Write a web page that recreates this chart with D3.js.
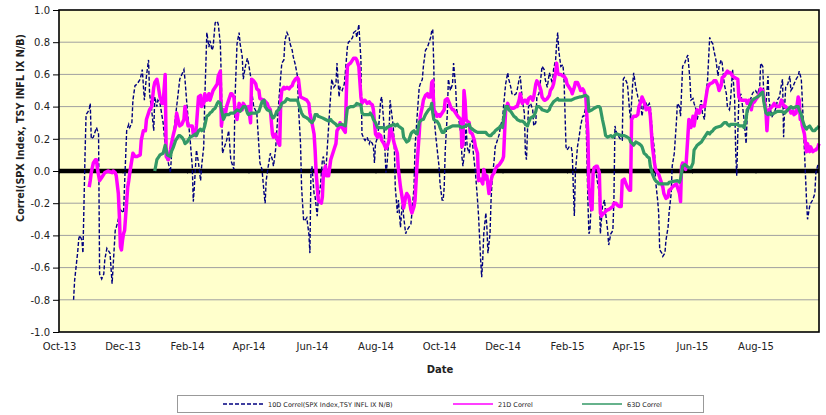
<!DOCTYPE html>
<html>
<head>
<meta charset="utf-8">
<script src="https://cdn.jsdelivr.net/npm/d3@7"></script>
<style>
  body { margin: 0; background: #fff; }
  svg { display: block; font-family: "DejaVu Sans", Verdana, sans-serif; }
</style>
</head>
<body>
<div id="chart"></div>
<script>
// dates are stored as day offsets from the first axis date
var startDate = new Date(2013, 9, 1),
    endDate = new Date(2015, 9, 1);

var yTicks = [-1.0, -0.8, -0.6, -0.4, -0.2, 0.0, 0.2, 0.4, 0.6, 0.8, 1.0];

var seriesNames = ["10D Correl(SPX Index,TSY INFL IX N/B)", "21D Correl", "63D Correl"];

// [day offset, correlation]
var corr10 = [
  [14,-0.80],[15,-0.68],[18,-0.50],[19,-0.42],[20,-0.40],[22,-0.43],[23,-0.51],[25,0.10],[26,0.35],[27,0.36],[29,0.38],[30,0.42],[31,0.20],[33,0.21],[36,0.27],[38,0.23],[39,-0.64],[41,-0.67],[43,-0.64],[44,-0.55],[46,-0.48],[49,-0.51],[51,-0.70],[52,-0.59],[54,-0.37],[55,-0.35],[57,-0.30],[59,-0.24],[62,-0.26],[63,-0.08],[65,0.25],[67,0.29],[68,0.27],[70,0.30],[71,0.44],[73,0.53],[75,0.54],[78,0.57],[80,0.63],[82,0.44],[84,0.59],[86,0.69],[87,0.48],[89,0.38],[91,0.25],[92,0.46],[94,0.40],[95,0.44],[97,0.42],[100,0.30],[103,0.09],[105,0.05],[107,-0.01],[108,0.09],[110,0.23],[113,0.40],[116,0.57],[120,0.63],[121,0.57],[123,0.40],[126,0.19],[128,0.03],[129,-0.19],[130,-0.10],[132,0.13],[134,0.05],[136,-0.06],[137,0.03],[139,0.15],[140,0.44],[142,0.86],[144,0.77],[145,0.81],[147,0.75],[148,0.77],[150,0.92],[152,0.93],[153,0.91],[155,0.79],[156,0.54],[157,0.11],[159,0.15],[161,0.19],[163,0.25],[165,0.07],[166,0.05],[168,0.01],[169,0.44],[171,0.79],
  [173,0.86],[174,0.79],[176,0.71],[177,0.57],[179,0.65],[181,0.70],[182,0.67],[184,0.59],[185,0.50],[187,0.40],[190,0.36],[193,0.05],[195,0.01],[197,-0.14],[198,-0.20],[199,-0.06],[201,0.03],[203,0.11],[205,0.07],[206,0.03],[208,0.13],[209,0.23],[211,0.42],[213,0.59],[214,0.67],[216,0.69],[217,0.81],[219,0.86],[221,0.83],[222,0.79],[224,0.75],[225,0.71],[227,0.66],[229,0.59],[230,0.40],[232,0.17],[233,-0.10],[235,-0.31],[237,-0.30],[238,-0.29],[240,-0.39],[241,-0.51],[242,-0.01],[243,0.03],[245,-0.14],[246,-0.16],[248,-0.28],[249,-0.18],[251,-0.10],[253,0.07],[254,0.09],[256,-0.03],[257,0.07],[259,0.28],[261,0.48],[262,0.57],[264,0.52],[266,0.54],[267,0.67],[269,0.46],[270,0.52],[272,0.50],[274,0.54],[275,0.61],[277,0.77],[278,0.80],[280,0.81],[282,0.83],[283,0.86],[285,0.87],[286,0.83],[288,0.91],[290,0.69],[291,0.23],[293,0.20],[294,0.19],[296,0.21],[298,0.17],[299,0.19],[301,0.17],[302,0.15],[303,0.05],[304,0.17],[306,0.21],[307,0.27],[309,0.44],[310,0.46],[312,0.30],[314,-0.01],[315,0.03],[317,0.23],[318,0.44],[321,0.28],[322,0.17],[323,-0.10],[325,-0.26],[326,-0.18],[328,-0.35],[330,-0.18],[331,-0.28],[333,-0.39],[334,-0.37],[336,-0.35],[338,-0.33],[339,-0.26],[341,-0.10],[342,0.15],[344,0.34],[346,0.52],[347,0.54],
  [349,0.57],[350,0.65],[352,0.75],[354,0.77],[355,0.79],[357,0.83],[358,0.87],[359,0.88],[360,0.65],[361,0.28],[362,0.21],[363,0.15],[365,0.03],[366,-0.08],[368,-0.18],[369,-0.18],[370,-0.10],[371,0.13],[373,0.36],[374,0.57],[376,0.50],[378,0.54],[379,0.67],[381,0.52],[382,0.38],[384,0.32],[386,0.23],[387,0.09],[388,0.03],[390,0.15],[391,0.30],[392,0.15],[394,0.11],[395,0.17],[397,0.19],[398,0.11],[400,-0.01],[402,-0.18],[403,-0.28],[405,-0.55],[406,-0.66],[407,-0.55],[408,-0.39],[410,-0.26],[411,-0.35],[412,-0.51],[414,-0.39],[415,-0.18],[416,-0.06],[418,0.07],[419,0.15],[421,0.19],[423,0.23],[424,0.28],[426,0.32],[427,0.40],[429,0.54],[431,0.61],[432,0.57],[434,0.52],[435,0.48],[437,0.47],[439,0.48],[440,0.50],[442,0.57],[443,0.59],[445,0.44],[447,0.36],[448,0.11],[449,0.07],[450,0.25],[451,0.40],[453,0.42],[455,0.38],[456,0.28],[458,0.30],[459,0.46],[461,0.48],[463,0.59],[464,0.65],[466,0.63],[467,0.57],[469,0.52],[471,0.61],[472,0.59],[474,0.54],[475,0.63],[477,0.69],[478,0.79],[479,0.86],[480,0.75],[482,0.65],[484,0.66],[485,0.59],[487,0.15],[488,0.13],[490,0.15],[492,0.15],[493,0.11],[494,-0.10],[495,-0.28],[496,-0.01],[498,0.15],[500,0.23],[501,0.28],[503,0.34],[504,0.34],[506,0.40],[508,-0.18],[509,-0.39],[510,-0.37],[511,-0.22],[512,-0.14],[514,0.03],[516,-0.01],[517,-0.06],[519,-0.14],[520,-0.39],[522,-0.22],[524,-0.18],[525,-0.26],[527,-0.37],[528,-0.46],[530,-0.39],
  [532,-0.37],[533,-0.18],[534,0.28],[535,0.25],[536,0.23],[538,0.21],[540,0.19],[541,0.19],[542,0.57],[543,0.58],[544,0.57],[546,0.54],[548,0.38],[549,0.32],[551,0.54],[552,0.61],[554,0.52],[556,0.46],[557,0.44],[559,0.40],[560,0.34],[562,0.44],[564,0.42],[565,0.40],[567,0.42],[568,0.40],[570,0.23],[572,0.13],[573,-0.06],[575,-0.18],[576,-0.26],[577,-0.49],[579,-0.51],[580,-0.53],[582,-0.51],[583,-0.43],[585,-0.35],[586,-0.26],[588,-0.14],[589,0.03],[591,0.11],[593,0.30],[594,0.42],[596,0.40],[597,0.34],[599,0.65],[601,0.67],[602,0.69],[604,0.72],[606,0.57],[607,0.44],[609,0.45],[610,0.42],[612,0.38],[613,0.32],[615,0.38],[617,0.44],[618,0.36],[620,0.32],[621,0.44],[623,0.57],[625,0.83],[626,0.81],[628,0.79],[629,0.75],[631,0.69],[633,0.59],[634,0.65],[636,0.69],[637,0.67],[639,0.54],[641,0.48],[642,0.40],[644,0.38],[645,0.44],[647,0.63],[649,0.44],[650,0.11],[651,-0.03],[652,0.23],[653,0.44],[655,0.48],[657,0.38],[658,0.32],[660,0.17],[661,0.34],[663,0.42],[665,0.46],[666,0.48],[668,0.50],[669,0.50],[671,0.48],[673,0.52],[674,0.67],[676,0.65],[677,0.46],[679,0.40],[681,0.59],[682,0.44],[684,0.36],[685,0.34],[687,0.36],[689,0.40],[690,0.44],[692,0.46],[694,0.54],[695,0.57],[696,0.21],[697,0.40],[698,0.52],[700,0.54],[702,0.59],[703,0.50],[705,0.52],[706,0.54],[708,0.57],[710,0.59],[711,0.62],[713,0.57],[714,0.44],[716,0.13],[718,-0.18],[719,-0.30],[720,-0.26],[721,-0.22],[722,-0.20],[724,-0.18],[726,-0.14],[727,-0.01],[729,0.04]
];

var corr21 = [
  [29,-0.10],[30,-0.06],[31,-0.01],[33,0.05],[35,0.07],[36,0.07],[37,0.01],[39,-0.06],[41,-0.04],[44,-0.01],[47,0.00],[51,-0.01],[52,0.00],[54,-0.01],[55,-0.03],[57,-0.14],[58,-0.28],[59,-0.47],[60,-0.49],[61,-0.43],[62,-0.39],[63,-0.37],[64,-0.28],[66,-0.10],[67,-0.06],[68,-0.01],[70,0.07],[71,0.11],[73,0.09],[75,0.09],[78,0.10],[79,0.19],[81,0.25],[83,0.25],[84,0.32],[86,0.36],[87,0.38],[89,0.40],[91,0.52],[92,0.55],[94,0.57],[95,0.54],[97,0.46],[99,0.42],[100,0.42],[102,0.60],[103,0.09],[105,0.07],[107,0.13],[108,0.17],[110,0.23],[112,0.28],[113,0.36],[115,0.30],[116,0.28],[118,0.29],[120,0.32],[121,0.40],[123,0.32],[124,0.28],[128,0.28],[129,0.23],[131,0.22],[132,0.28],[134,0.46],[136,0.47],[137,0.40],[139,0.42],[140,0.48],[142,0.44],[144,0.48],[145,0.44],[147,0.48],[148,0.50],[150,0.52],[152,0.54],[153,0.59],[155,0.62],[156,0.28],[158,0.38],[160,0.36],[161,0.40],[163,0.44],[165,0.48],[166,0.48],[168,0.46],[169,0.38],[171,0.32],
  [173,0.42],[174,0.40],[176,0.38],[177,0.42],[179,0.40],[181,0.38],[182,0.40],[184,0.30],[185,0.57],[187,0.56],[189,0.54],[190,0.51],[192,0.50],[193,0.45],[197,0.44],[200,0.42],[201,0.40],[203,0.38],[205,0.23],[206,0.21],[208,0.23],[209,0.21],[211,0.17],[212,0.16],[213,0.44],[214,0.50],[216,0.52],[217,0.51],[219,0.52],[221,0.51],[222,0.52],[224,0.53],[225,0.55],[227,0.57],[229,0.58],[230,0.57],[232,0.46],[235,0.45],[238,0.44],[240,0.42],[241,0.36],[243,0.30],[245,0.23],[246,0.13],[247,-0.01],[249,-0.18],[250,-0.19],[252,-0.20],[253,-0.16],[254,-0.01],[256,0.03],[257,-0.03],[259,-0.03],[261,0.07],[262,0.09],[264,0.13],[266,0.17],[267,0.25],[269,0.27],[270,0.30],[272,0.27],[274,0.25],[275,0.24],[276,0.48],[277,0.65],[278,0.66],[280,0.67],[282,0.69],[283,0.70],[285,0.70],[286,0.69],[288,0.65],[290,0.46],[291,0.42],[293,0.44],[294,0.44],[296,0.42],[298,0.43],[299,0.42],[301,0.41],[302,0.38],[304,0.23],[306,0.21],[307,0.23],[309,0.22],[310,0.19],[312,0.17],[314,0.14],[315,0.15],[317,0.19],[318,0.28],[320,0.23],[322,0.17],[323,0.15],[325,0.11],[326,0.01],[328,-0.10],[330,-0.18],[331,-0.23],[333,-0.16],[334,-0.14],[336,-0.16],[338,-0.24],[339,-0.26],[341,-0.22],[342,-0.18],[344,0.05],[346,0.23],[347,0.34],[349,0.40],[350,0.44],[352,0.47],[354,0.48],[355,0.46],[357,0.46],
  [358,0.55],[359,0.56],[360,0.38],[362,0.36],[363,0.34],[365,0.35],[366,0.34],[368,0.36],[370,0.38],[371,0.44],[373,0.45],[375,0.42],[376,0.40],[378,0.38],[379,0.38],[381,0.36],[383,0.34],[386,0.32],[387,0.15],[388,0.17],[389,0.50],[390,0.44],[391,0.32],[392,0.31],[394,0.30],[395,0.24],[397,0.23],[399,0.19],[400,0.15],[402,0.11],[403,-0.06],[405,-0.05],[407,-0.08],[408,0.01],[410,-0.05],[411,-0.03],[413,-0.14],[415,-0.06],[416,-0.03],[418,-0.01],[419,0.01],[421,0.03],[423,0.04],[424,0.05],[426,0.07],[427,0.09],[429,0.38],[431,0.42],[432,0.40],[434,0.39],[437,0.39],[439,0.40],[440,0.40],[442,0.44],[443,0.48],[445,0.42],[447,0.44],[448,0.44],[450,0.42],[451,0.45],[453,0.46],[455,0.44],[456,0.46],[458,0.54],[459,0.56],[461,0.54],[463,0.50],[464,0.46],[466,0.44],[467,0.44],[469,0.45],[471,0.47],[472,0.50],[474,0.52],[475,0.54],[477,0.61],[478,0.67],[479,0.61],[480,0.60],[482,0.60],[484,0.59],[485,0.59],[487,0.57],[488,0.54],[490,0.52],[492,0.50],[493,0.48],[495,0.52],[496,0.55],[498,0.55],[500,0.52],[501,0.50],[503,0.51],[504,0.50],[506,0.46],[508,0.23],[509,-0.10],[511,-0.22],[512,-0.24],[513,-0.01],[514,0.02],[516,0.03],[517,0.03],[519,-0.01],[520,-0.26],[521,-0.28],[522,-0.27],[524,-0.26],[525,-0.25],[527,-0.24],[528,-0.24],[530,-0.23],[532,-0.22],[533,-0.20],[535,-0.20],[536,-0.21],[538,-0.22],[540,-0.22],
  [541,-0.06],[543,-0.05],[544,-0.07],[546,-0.10],[548,-0.12],[549,-0.12],[550,0.32],[551,0.33],[552,0.34],[554,0.34],[556,0.35],[557,0.40],[559,0.43],[560,0.46],[562,0.43],[564,0.38],[565,0.39],[567,0.39],[568,0.34],[570,0.15],[572,0.05],[573,0.01],[575,-0.01],[576,-0.02],[578,-0.06],[580,-0.10],[581,-0.14],[583,-0.17],[585,-0.16],[586,-0.12],[588,-0.11],[589,-0.10],[591,-0.09],[593,-0.08],[594,-0.10],[596,-0.14],[597,-0.19],[598,0.03],[599,0.05],[601,0.03],[602,0.01],[604,0.21],[605,0.32],[606,0.30],[607,0.27],[609,0.34],[610,0.28],[612,0.36],[613,0.38],[615,0.36],[617,0.40],[620,0.40],[621,0.44],[623,0.52],[625,0.54],[628,0.55],[629,0.56],[631,0.56],[633,0.53],[634,0.50],[636,0.53],[637,0.58],[639,0.59],[641,0.61],[642,0.62],[644,0.61],[645,0.61],[647,0.59],[649,0.58],[652,0.57],[653,0.46],[655,0.44],[658,0.44],[660,0.44],[661,0.42],[663,0.44],[665,0.38],[666,0.42],[668,0.43],[669,0.44],[671,0.46],[673,0.48],[674,0.51],[676,0.50],[677,0.46],[679,0.38],[680,0.25],[681,0.36],[682,0.38],[685,0.40],[687,0.42],[689,0.40],[692,0.40],[694,0.44],[695,0.42],[697,0.40],[698,0.40],[700,0.38],[702,0.38],[703,0.36],[705,0.37],[706,0.35],[708,0.36],[710,0.46],[711,0.44],[712,0.32],[713,0.33],[714,0.28],[716,0.23],[718,0.12],[719,0.17],[721,0.12],[722,0.15],[724,0.12],[726,0.13],[727,0.13],[729,0.15],[730,0.17]
];

var corr63 = [
  [92,0.00],[94,0.07],[96,0.09],[97,0.10],[100,0.11],[102,0.16],[104,0.10],[107,0.09],[108,0.12],[110,0.15],[112,0.19],[113,0.20],[115,0.22],[116,0.22],[118,0.21],[120,0.19],[121,0.17],[123,0.18],[124,0.19],[126,0.21],[129,0.22],[131,0.23],[132,0.22],[134,0.25],[136,0.26],[137,0.25],[139,0.26],[140,0.28],[142,0.34],[144,0.35],[145,0.36],[147,0.37],[148,0.38],[150,0.39],[152,0.42],[153,0.43],[155,0.42],[156,0.38],[158,0.32],[160,0.35],[163,0.35],[165,0.36],[168,0.36],[171,0.38],[174,0.37],[177,0.40],[179,0.40],[181,0.36],[182,0.35],[185,0.36],[189,0.36],[192,0.37],[193,0.39],[195,0.43],[197,0.44],[198,0.40],[200,0.38],[203,0.37],[205,0.33],[206,0.33],[208,0.35],[209,0.37],[211,0.38],[213,0.40],[214,0.42],[217,0.43],[219,0.45],[222,0.44],[229,0.44],[230,0.42],[232,0.38],[233,0.36],[235,0.34],[238,0.33],[240,0.32],[241,0.31],[243,0.30],[245,0.32],[246,0.35],[248,0.35],[249,0.34],[253,0.33],[256,0.32],[259,0.31],[261,0.32],[262,0.31],[264,0.30],[266,0.29],[267,0.28],[270,0.29],[272,0.29],[275,0.28],[277,0.39],[280,0.40],[283,0.40],[285,0.41],[286,0.42],[290,0.41],[291,0.36],[293,0.35],[298,0.35],[299,0.36],[301,0.34],[302,0.32],[304,0.30],[306,0.27],[312,0.27],[314,0.26],[315,0.27],[318,0.28],[322,0.29],[323,0.28],[325,0.29],[326,0.28],[328,0.27],[330,0.26],[331,0.21],[333,0.19],[334,0.18],[336,0.19],[338,0.23],[339,0.24],[341,0.25],[342,0.24],[344,0.23],[346,0.30],[347,0.31],[349,0.32],[350,0.32],[352,0.35],[354,0.37],[355,0.38],[357,0.39],[358,0.42],[359,0.36],[360,0.32],[362,0.31],[363,0.31],[365,0.29],[366,0.27],[368,0.24],[370,0.24],[371,0.26],[375,0.27],[378,0.28],[381,0.28],[384,0.28],[387,0.27],[391,0.28],[394,0.29],[395,0.27],[397,0.26],[399,0.25],[402,0.24],[410,0.24],[411,0.23],[413,0.22],[415,0.22],[416,0.23],[418,0.24],[419,0.25],[421,0.26],[423,0.27],[424,0.28],[426,0.27],[427,0.32],[429,0.40],[431,0.40],[432,0.38],[434,0.37],[435,0.36],[437,0.34],[439,0.33],[440,0.32],[443,0.31],[445,0.31],[447,0.30],[448,0.29],[450,0.28],[451,0.30],[453,0.33],[456,0.34],[458,0.37],[459,0.40],[461,0.40],[463,0.39],[464,0.38],[469,0.37],[471,0.38],[472,0.40],[474,0.42],[475,0.43],[477,0.44],[479,0.45],[480,0.44],[492,0.44],[495,0.45],[500,0.46],[501,0.46],[506,0.47],[508,0.46],[509,0.37],[512,0.38],[514,0.39],[517,0.40],[519,0.40],[520,0.39],[522,0.32],[524,0.26],[525,0.22],[527,0.21],[530,0.22],[532,0.21],[535,0.23],[536,0.23],[540,0.22],[543,0.22],[546,0.21],[548,0.20],[549,0.18],[551,0.17],[552,0.16],[554,0.18],[557,0.17],[559,0.16],[560,0.15],[562,0.11],[564,0.10],[565,0.09],[567,0.08],[568,0.03],[570,-0.02],[572,-0.05],[573,-0.06],[575,-0.07],[576,-0.08],[585,-0.08],[586,-0.07],[594,-0.06],[596,-0.07],[597,-0.05],[599,0.03],[601,0.04],[605,0.02],[607,0.02],[609,0.05],[610,0.13],[612,0.15],[613,0.16],[615,0.17],[617,0.18],[618,0.19],[620,0.21],[621,0.22],[623,0.24],[625,0.23],[626,0.24],[628,0.25],[629,0.26],[631,0.27],[636,0.28],[639,0.30],[641,0.30],[642,0.29],[644,0.28],[645,0.29],[652,0.29],[653,0.28],[657,0.28],[658,0.27],[660,0.32],[661,0.38],[663,0.40],[665,0.43],[666,0.44],[668,0.45],[671,0.46],[673,0.47],[674,0.48],[676,0.49],[677,0.43],[679,0.36],[681,0.35],[682,0.36],[684,0.35],[687,0.36],[690,0.37],[694,0.37],[697,0.36],[700,0.38],[703,0.40],[705,0.39],[708,0.40],[710,0.40],[711,0.38],[713,0.35],[714,0.32],[716,0.28],[718,0.26],[719,0.27],[721,0.28],[722,0.27],[724,0.25],[726,0.25],[727,0.26],[729,0.27],[730,0.28]
];

var width = 826,
    height = 415,
    plot = { left: 59, top: 10, right: 819, bottom: 332 };

var svg = d3.select("#chart")
    .append("svg")
    .attr("width", width)
    .attr("height", height);

var x = d3.scaleTime()
    .domain([startDate, endDate])
    .range([plot.left, plot.right]);

var y = d3.scaleLinear()
    .domain([-1, 1])
    .range([plot.bottom, plot.top]);

function toDate(d) { return d3.timeDay.offset(startDate, d[0]); }

// plot background
svg.append("rect")
    .attr("x", plot.left)
    .attr("y", plot.top)
    .attr("width", plot.right - plot.left)
    .attr("height", plot.bottom - plot.top)
    .attr("fill", "#FFFFCC");

// gridlines
svg.append("g")
    .selectAll("line")
    .data(yTicks.filter(function (t) { return t > -1 && t < 1 && t !== 0; }))
    .enter()
    .append("line")
    .attr("x1", plot.left)
    .attr("x2", plot.right)
    .attr("y1", function (d) { return y(d); })
    .attr("y2", function (d) { return y(d); })
    .attr("stroke", "#A0A0A0")
    .attr("stroke-width", 1);

var monthTicks = d3.timeMonth.range(startDate, endDate, 2);

// zero axis with little tick marks
svg.append("g")
    .attr("transform", "translate(0," + y(0) + ")")
    .call(d3.axisBottom(x).tickValues(monthTicks).tickSize(3).tickFormat(""))
    .call(function (g) {
        g.select(".domain").remove();
        g.selectAll(".tick line").attr("stroke", "#888");
    });

svg.append("line")
    .attr("x1", plot.left)
    .attr("x2", plot.right)
    .attr("y1", y(0))
    .attr("y2", y(0))
    .attr("stroke", "#000")
    .attr("stroke-width", 4.5);

var line = d3.line()
    .x(function (d) { return x(toDate(d)); })
    .y(function (d) { return y(d[1]); });

svg.append("path")
    .datum(corr10)
    .attr("d", line)
    .attr("fill", "none")
    .attr("stroke", "#000080")
    .attr("stroke-width", 1.4)
    .attr("stroke-dasharray", "4,2");

svg.append("path")
    .datum(corr21)
    .attr("d", line)
    .attr("fill", "none")
    .attr("stroke", "#FF00FF")
    .attr("stroke-width", 3.5)
    .attr("stroke-linejoin", "round");

svg.append("path")
    .datum(corr63)
    .attr("d", line)
    .attr("fill", "none")
    .attr("stroke", "#339966")
    .attr("stroke-width", 3.2)
    .attr("stroke-linejoin", "round");

// plot border
svg.append("rect")
    .attr("x", plot.left)
    .attr("y", plot.top)
    .attr("width", plot.right - plot.left)
    .attr("height", plot.bottom - plot.top)
    .attr("fill", "none")
    .attr("stroke", "#000")
    .attr("stroke-width", 1.6);

// y axis
svg.append("g")
    .attr("transform", "translate(" + plot.left + ",0)")
    .call(d3.axisLeft(y).tickValues(yTicks).tickSize(6).tickPadding(3)
        .tickFormat(function (d) { return d.toFixed(1); }))
    .call(function (g) {
        g.select(".domain").remove();
        g.selectAll(".tick line").attr("stroke", "#000");
        g.selectAll("text").attr("font-size", 10).attr("fill", "#222")
            .attr("font-family", "DejaVu Sans");
    });

// x axis labels along the bottom
svg.append("g")
    .attr("transform", "translate(0," + plot.bottom + ")")
    .call(d3.axisBottom(x).tickValues(monthTicks).tickSize(0).tickPadding(11)
        .tickFormat(d3.timeFormat("%b-%y")))
    .call(function (g) {
        g.select(".domain").remove();
        g.selectAll("text").attr("font-size", 10).attr("fill", "#222")
            .attr("font-family", "DejaVu Sans");
    });

// axis titles
svg.append("text")
    .attr("x", 440)
    .attr("y", 373)
    .attr("text-anchor", "middle")
    .attr("font-size", 10)
    .attr("font-weight", "bold")
    .attr("fill", "#222")
    .text("Date");

svg.append("text")
    .attr("transform", "translate(24,128) rotate(-90)")
    .attr("text-anchor", "middle")
    .attr("font-size", 9.6)
    .attr("font-weight", "bold")
    .attr("fill", "#222")
    .text("Correl(SPX Index, TSY INFL IX N/B)");

// legend
var legend = svg.append("g").attr("class", "legend");

legend.append("rect")
    .attr("x", 177.5)
    .attr("y", 395.5)
    .attr("width", 526)
    .attr("height", 17)
    .attr("fill", "#fff")
    .attr("stroke", "#999");

var legendItems = [
    { name: seriesNames[0], color: "#000080", w: 1.4, dash: "4,2", x: 223 },
    { name: seriesNames[1], color: "#FF00FF", w: 1.6, dash: null, x: 453 },
    { name: seriesNames[2], color: "#339966", w: 1.6, dash: null, x: 582 }
];

var item = legend.selectAll(".item")
    .data(legendItems)
    .enter()
    .append("g")
    .attr("class", "item");

item.append("line")
    .attr("x1", function (d) { return d.x; })
    .attr("x2", function (d) { return d.x + 40; })
    .attr("y1", 404)
    .attr("y2", 404)
    .attr("stroke", function (d) { return d.color; })
    .attr("stroke-width", function (d) { return d.w; })
    .attr("stroke-dasharray", function (d) { return d.dash; });

item.append("text")
    .attr("x", function (d) { return d.x + 45; })
    .attr("y", 406.5)
    .attr("font-size", 6.5)
    .attr("fill", "#222")
    .text(function (d) { return d.name; });
</script>
</body>
</html>
